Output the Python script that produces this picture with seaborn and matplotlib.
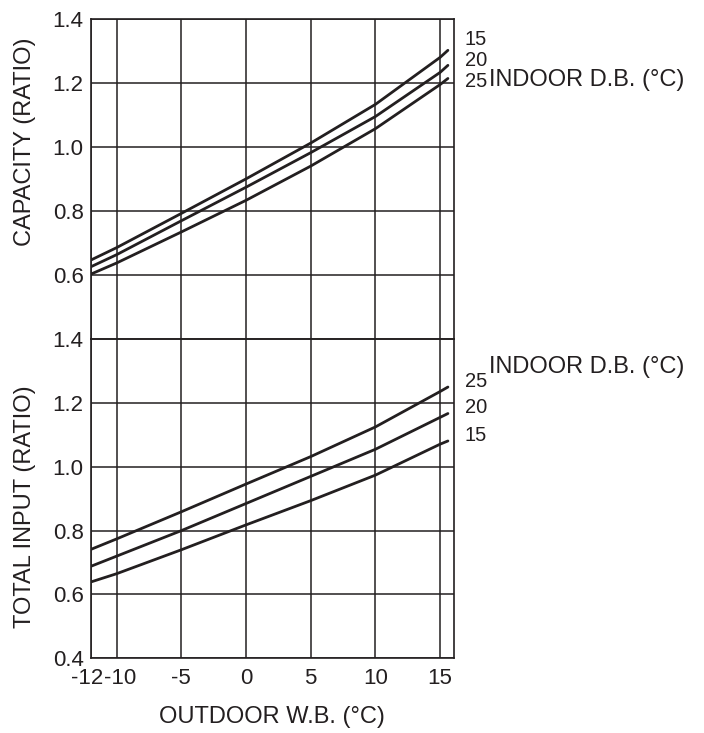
import numpy as np
import pandas as pd
import matplotlib
matplotlib.use("Agg")
import matplotlib.pyplot as plt
import matplotlib.transforms as mtransforms
import seaborn as sns

# outdoor wet bulb (°C)
outdoor_wb = [-12, -10, -5, 0, 5, 10, 15, 15.6]

# capacity ratio per indoor dry bulb
capacity_15 = [0.647, 0.686, 0.793, 0.901, 1.013, 1.134, 1.281, 1.303]
capacity_20 = [0.626, 0.664, 0.770, 0.875, 0.983, 1.096, 1.234, 1.256]
capacity_25 = [0.603, 0.638, 0.735, 0.834, 0.941, 1.058, 1.196, 1.215]

# total input ratio per indoor dry bulb
input_25 = [0.741, 0.774, 0.859, 0.946, 1.032, 1.125, 1.236, 1.250]
input_20 = [0.688, 0.720, 0.800, 0.885, 0.970, 1.055, 1.155, 1.167]
input_15 = [0.639, 0.665, 0.740, 0.818, 0.894, 0.974, 1.071, 1.081]

indoor_db = ["15", "20", "25"]
x_ticks = [-12, -10, -5, 0, 5, 10, 15]
cap_ticks = [0.6, 0.8, 1.0, 1.2, 1.4]
inp_ticks = [0.4, 0.6, 0.8, 1.0, 1.2, 1.4]

INK = "#231f20"

sns.set_theme(style="white")
plt.rcParams["font.family"] = ["Liberation Sans", "DejaVu Sans"]
plt.rcParams["axes.edgecolor"] = INK
plt.rcParams["text.color"] = INK
plt.rcParams["xtick.color"] = INK
plt.rcParams["ytick.color"] = INK
plt.rcParams["axes.labelcolor"] = INK

cap_df = pd.DataFrame({
    "wb": outdoor_wb * 3,
    "ratio": capacity_15 + capacity_20 + capacity_25,
    "db": sum([[d] * len(outdoor_wb) for d in indoor_db], []),
})
inp_df = pd.DataFrame({
    "wb": outdoor_wb * 3,
    "ratio": input_15 + input_20 + input_25,
    "db": sum([[d] * len(outdoor_wb) for d in indoor_db], []),
})

fig = plt.figure(figsize=(7.04, 7.33), dpi=100)
ax_top = fig.add_axes([0.1288, 0.5373, 0.5157, 0.4364])
ax_bot = fig.add_axes([0.1288, 0.1019, 0.5157, 0.4354], sharex=ax_top)

pal = [INK, INK, INK]
sns.lineplot(data=cap_df, x="wb", y="ratio", hue="db", palette=pal,
             linewidth=2.0, legend=False, ax=ax_top)
sns.lineplot(data=inp_df, x="wb", y="ratio", hue="db", palette=pal,
             linewidth=2.0, legend=False, ax=ax_bot)

for ax in (ax_top, ax_bot):
    ax.set_xlim(-12, 16.05)
    ax.set_ylim(0.4, 1.4)
    ax.set_xticks(x_ticks)
    ax.grid(True, color=INK, linewidth=1.1)
    ax.tick_params(length=0, labelsize=16)
    for sp in ax.spines.values():
        sp.set_linewidth(1.2)
        sp.set_color(INK)
    ax.set_axisbelow(True)

ax_top.set_yticks(cap_ticks)
ax_top.set_yticklabels([f"{v:.1f}" for v in cap_ticks])
ax_top.tick_params(axis="x", labelbottom=False)
ax_top.tick_params(axis="y", pad=5)
ax_top.set_xlabel("")
ax_top.set_ylabel("CAPACITY (RATIO)", fontsize=17)
ax_top.yaxis.set_label_coords(-0.15, 0.617)

ax_bot.set_yticks(inp_ticks)
ax_bot.set_yticklabels([f"{v:.1f}" for v in inp_ticks])
ax_bot.set_xticklabels([str(v) for v in x_ticks])
ax_bot.tick_params(axis="y", pad=5)
ax_bot.tick_params(axis="x", pad=7)
ax_bot.set_ylabel("TOTAL INPUT (RATIO)", fontsize=17)
ax_bot.yaxis.set_label_coords(-0.15, 0.475)
ax_bot.set_xlabel("OUTDOOR W.B. (°C)", fontsize=17, labelpad=12)

# nudge -12 and -10 apart so they sit side by side
xlabs = ax_bot.xaxis.get_majorticklabels()
for lab, dx in zip(xlabs[:2], [-4, 4]):
    off = mtransforms.ScaledTranslation(dx / 100, 0, fig.dpi_scale_trans)
    lab.set_transform(lab.get_transform() + off)

# curve labels
for lab, yy in zip(indoor_db, [0.938, 0.870, 0.807]):
    ax_top.text(1.031, yy, lab, transform=ax_top.transAxes, fontsize=14.5,
                va="center", ha="left")
ax_top.text(1.098, 0.810, "INDOOR D.B. (°C)", transform=ax_top.transAxes,
            fontsize=17, va="center", ha="left")

for lab, yy in zip(indoor_db, [0.698, 0.785, 0.867]):
    ax_bot.text(1.031, yy, lab, transform=ax_bot.transAxes, fontsize=14.5,
                va="center", ha="left")
ax_bot.text(1.098, 0.914, "INDOOR D.B. (°C)", transform=ax_bot.transAxes,
            fontsize=17, va="center", ha="left")

fig.savefig("out.png", dpi=100)
